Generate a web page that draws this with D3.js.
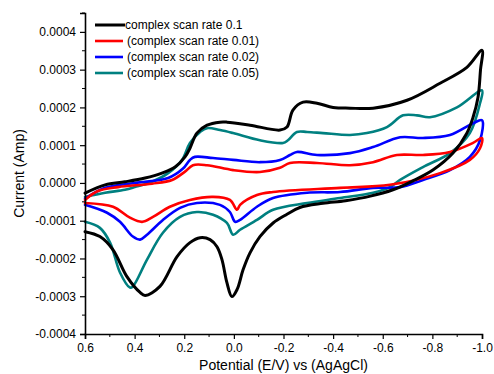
<!DOCTYPE html>
<html lang="en">
<head>
<meta charset="UTF-8">
<title>CV scan rates</title>
<script src="https://d3js.org/d3.v7.min.js"></script>
<style>
  body { margin: 0; background: #fff; }
  text { font-family: "Liberation Sans", Arial, Helvetica, sans-serif; fill: #000; }
  .curve { fill: none; stroke-linejoin: round; stroke-linecap: round; }
</style>
</head>
<body>
<div id="chart"></div>
<script>
// potential (V) and current (microamp), forward sweep then return sweep
var black01 = [
  [0.60,-27],[0.519,-5],[0.439,3],[0.358,13],[0.29,26],[0.237,42],[0.197,69],[0.177,92],[0.149,132],
  [0.108,153],[0.056,161],[0.028,161],[-0.065,153],[-0.186,140],[-0.214,148],[-0.238,193],[-0.279,214],
  [-0.335,211],[-0.40,200],[-0.468,198],[-0.561,198],[-0.698,219],[-0.831,264],[-0.939,306],[-1.0,351],
  [-0.994,300],[-0.984,227],[-0.964,174],[-0.939,132],[-0.883,79],[-0.802,34],[-0.72,5],[-0.641,-18],
  [-0.55,-35],[-0.45,-47],[-0.359,-54],[-0.266,-65],[-0.214,-83],[-0.158,-106],[-0.105,-142],
  [-0.065,-185],[-0.037,-230],[-0.013,-282],[0.008,-301],[0.028,-264],[0.048,-203],[0.068,-169],
  [0.096,-150],[0.136,-145],[0.177,-158],[0.229,-195],[0.298,-274],[0.358,-298],[0.378,-290],
  [0.431,-248],[0.487,-177],[0.54,-142],[0.60,-129]
];
var red001 = [
  [0.60,-45],[0.55,-22],[0.467,-11],[0.33,-2],[0.249,8],[0.197,30],[0.165,47],[0.108,47],[0.003,34],
  [-0.105,29],[-0.186,40],[-0.226,53],[-0.335,53],[-0.468,47],[-0.561,55],[-0.657,74],[-0.762,74],
  [-0.871,82],[-0.964,106],[-1.0,119],
  [-0.992,92],[-0.951,61],[-0.831,26],[-0.629,-5],[-0.428,-13],[-0.158,-24],[-0.093,-32],[-0.025,-58],
  [-0.013,-71],[0.016,-45],[0.084,-37],[0.177,-45],[0.258,-63],[0.326,-90],[0.37,-103],[0.419,-92],
  [0.487,-63],[0.60,-53]
];
var blue002 = [
  [0.60,-42],[0.519,-13],[0.399,0],[0.265,13],[0.205,38],[0.177,61],[0.157,69],[0.084,66],
  [0.003,61],[-0.105,55],[-0.186,61],[-0.226,74],[-0.254,82],[-0.335,74],[-0.468,79],[-0.561,95],
  [-0.67,121],[-0.762,119],[-0.871,127],[-0.964,158],[-1.0,166],
  [-0.992,113],[-0.951,69],[-0.871,34],[-0.762,8],[-0.67,-11],[-0.561,-13],[-0.428,-24],[-0.295,-26],
  [-0.158,-40],[-0.093,-63],[-0.025,-98],[-0.005,-103],[0.016,-77],[0.056,-58],[0.149,-53],[0.217,-66],
  [0.286,-98],[0.35,-137],[0.378,-150],[0.407,-142],[0.459,-103],[0.511,-79],[0.60,-58]
];
var teal005 = [
  [0.60,-37],[0.519,-26],[0.439,-18],[0.399,-11],[0.33,3],[0.265,26],[0.209,61],[0.177,106],[0.136,135],
  [0.108,145],[0.056,140],[0.003,132],[-0.105,113],[-0.198,106],[-0.218,113],[-0.254,135],[-0.295,135],
  [-0.359,132],[-0.468,127],[-0.536,132],[-0.617,148],[-0.682,179],[-0.738,179],[-0.79,174],[-0.899,200],
  [-1.0,245],
  [-0.992,211],[-0.951,132],[-0.871,79],[-0.762,42],[-0.67,8],[-0.629,-11],[-0.561,-26],[-0.428,-40],
  [-0.295,-53],[-0.158,-71],[-0.093,-98],[-0.025,-124],[0.003,-137],[0.028,-106],[0.084,-84],[0.149,-77],
  [0.217,-90],[0.286,-132],[0.35,-203],[0.407,-274],[0.419,-277],[0.459,-237],[0.499,-158],[0.54,-119],
  [0.60,-103]
];

var seriesNames = ["complex scan rate 0.1", "(complex scan rate 0.01)", "(complex scan rate 0.02)", "(complex scan rate 0.05)"];
var seriesColors = ["#000000", "#ff0000", "#0000ff", "#008080"];
var seriesData = [black01, red001, blue002, teal005];

var xTicks = [0.6, 0.4, 0.2, 0.0, -0.2, -0.4, -0.6, -0.8, -1.0];
var yTicks = [-0.0004, -0.0003, -0.0002, -0.0001, 0.0, 0.0001, 0.0002, 0.0003, 0.0004];

var width = 494, height = 374;
var margin = { top: 13, right: 12, bottom: 40, left: 85 };

var svg = d3.select("#chart").append("svg")
  .attr("width", width)
  .attr("height", height);

var x = d3.scaleLinear().domain([0.6, -1.0]).range([margin.left, width - margin.right]);
var y = d3.scaleLinear().domain([-0.0004, 0.00045]).range([height - margin.bottom, margin.top]);

var line = d3.line()
  .x(function(d) { return x(d[0]); })
  .y(function(d) { return y(d[1] * 1e-6); })
  .curve(d3.curveCatmullRom.alpha(0.5));

// curves, teal under blue/red under black like the picture
var order = [3, 2, 1, 0];
order.forEach(function(i) {
  svg.append("path")
    .datum(seriesData[i])
    .attr("class", "curve")
    .attr("d", line)
    .attr("stroke", seriesColors[i])
    .attr("stroke-width", i === 0 ? 3 : 2.6);
});

// axes
var xMinor = d3.range(0.5, -1.0, -0.2);
var yMinor = d3.range(-0.00035, 0.0005, 0.0001);

var xAxis = svg.append("g")
  .attr("transform", "translate(0," + (height - margin.bottom) + ")")
  .call(d3.axisBottom(x).tickValues(xTicks).tickSize(5).tickPadding(4)
    .tickFormat(function(d) { return d3.format(".1f")(d).replace("−", "-"); }));
xAxis.append("g").selectAll("line").data(xMinor).enter().append("line")
  .attr("x1", function(d) { return x(d); }).attr("x2", function(d) { return x(d); })
  .attr("y1", 0).attr("y2", 3).attr("stroke", "#000");

var yAxis = svg.append("g")
  .attr("transform", "translate(" + margin.left + ",0)")
  .call(d3.axisLeft(y).tickValues(yTicks).tickSize(5).tickPadding(4)
    .tickFormat(function(d) { return d3.format(".4f")(d).replace("−", "-"); }));
yAxis.append("g").selectAll("line").data(yMinor).enter().append("line")
  .attr("y1", function(d) { return y(d); }).attr("y2", function(d) { return y(d); })
  .attr("x1", 0).attr("x2", -3).attr("stroke", "#000");

[xAxis, yAxis].forEach(function(a) {
  a.select(".domain").attr("stroke-width", 1.6);
  a.selectAll(".tick line").attr("stroke-width", 1.2);
  a.selectAll("text").style("font-size", "12px").style("font-family", "Liberation Sans, Arial, sans-serif");
});

// axis titles
svg.append("text")
  .attr("x", (margin.left + width - margin.right) / 2)
  .attr("y", 370)
  .attr("text-anchor", "middle")
  .style("font-size", "14px")
  .text("Potential (E/V) vs (AgAgCl)");

svg.append("text")
  .attr("transform", "translate(24," + ((margin.top + height - margin.bottom) / 2) + ") rotate(-90)")
  .attr("text-anchor", "middle")
  .style("font-size", "14px")
  .text("Current (Amp)");

// legend
var legend = svg.append("g").attr("transform", "translate(95,25)");
seriesNames.forEach(function(name, i) {
  var row = legend.append("g").attr("transform", "translate(0," + (i * 16) + ")");
  row.append("line")
    .attr("x1", 0).attr("x2", i === 0 ? 30 : 28)
    .attr("y1", 0).attr("y2", 0)
    .attr("stroke", seriesColors[i])
    .attr("stroke-width", i === 0 ? 3 : 2.6);
  row.append("text")
    .attr("x", i === 0 ? 30 : 32)
    .attr("y", 4)
    .style("font-size", "12px")
    .text(name);
});
</script>
</body>
</html>
